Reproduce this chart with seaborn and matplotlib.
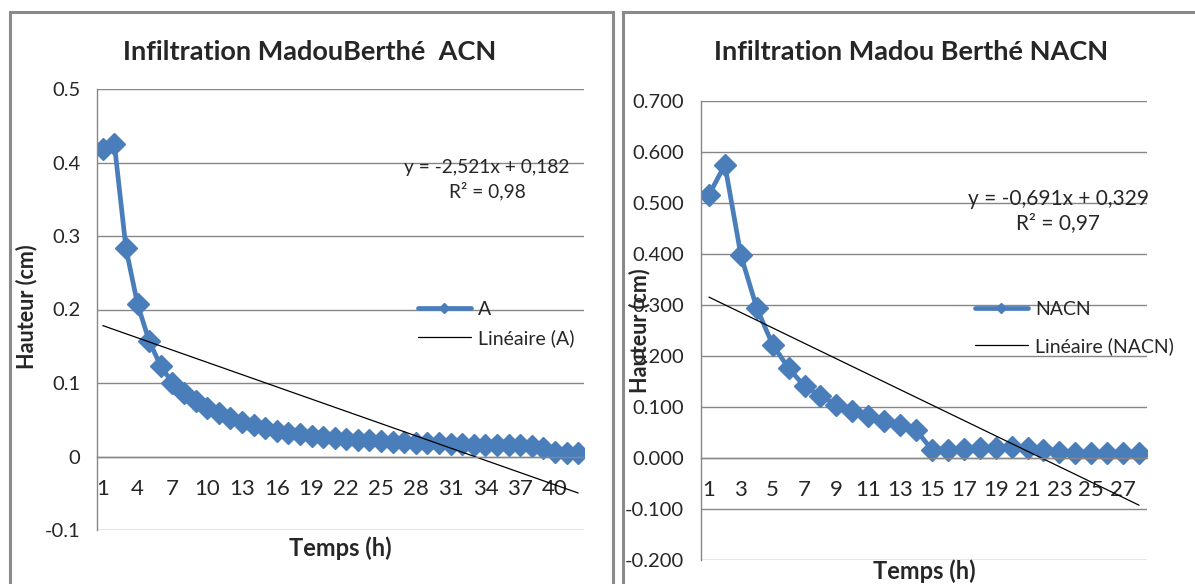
import matplotlib.pyplot as plt
import seaborn as sns
from matplotlib.lines import Line2D
from matplotlib.patches import Rectangle

# Données (hauteur en cm par heure)
hauteur_acn = [0.418, 0.425, 0.283, 0.207, 0.157, 0.123, 0.100, 0.087, 0.076, 0.066,
               0.059, 0.052, 0.047, 0.043, 0.039, 0.035, 0.032, 0.030, 0.028, 0.027,
               0.025, 0.024, 0.023, 0.022, 0.021, 0.020, 0.020, 0.019, 0.018, 0.018,
               0.017, 0.017, 0.016, 0.016, 0.015, 0.015, 0.015, 0.014, 0.012, 0.006,
               0.005, 0.005]
hauteur_nacn = [0.516, 0.575, 0.398, 0.294, 0.222, 0.176, 0.141, 0.122, 0.104, 0.092,
                0.082, 0.073, 0.065, 0.055, 0.016, 0.016, 0.018, 0.019, 0.020, 0.022,
                0.020, 0.016, 0.012, 0.010, 0.010, 0.009, 0.009, 0.009]
temps_acn = list(range(1, len(hauteur_acn) + 1))
temps_nacn = list(range(1, len(hauteur_nacn) + 1))

titre_acn = "Infiltration MadouBerthé  ACN"
titre_nacn = "Infiltration Madou Berthé NACN"
equation_acn = "y = -2,521x + 0,182\nR² = 0,98"
equation_nacn = "y = -0,691x + 0,329\nR² = 0,97"

yticks_acn = [0.5, 0.4, 0.3, 0.2, 0.1, 0, -0.1]
ylabels_acn = ["0.5", "0.4", "0.3", "0.2", "0.1", "0", "-0.1"]
yticks_nacn = [0.7, 0.6, 0.5, 0.4, 0.3, 0.2, 0.1, 0, -0.1, -0.2]
ylabels_nacn = ["0.700", "0.600", "0.500", "0.400", "0.300", "0.200", "0.100",
                "0.000", "-0.100", "-0.200"]
xticks_acn = temps_acn[::3]
xticks_nacn = temps_nacn[::2]

bleu = "#4A7EBB"
gris = "#878787"
W, H = 1195, 584

sns.set_style("white")
plt.rcParams["font.family"] = ["Lato", "DejaVu Sans"]

fig = plt.figure(figsize=(W / 100, H / 100), dpi=100)

# cadres gris des deux graphiques
fig.patches.append(Rectangle((10 / W, -0.1), 603 / W, 1.1 - 12 / H, transform=fig.transFigure,
                             fill=False, ec="#8a8a8a", lw=2.2))
fig.patches.append(Rectangle((623 / W, -0.1), 0.6, 1.1 - 12 / H, transform=fig.transFigure,
                             fill=False, ec="#8a8a8a", lw=2.2))

ax1 = fig.add_axes([97 / W, 1 - 530 / H, 487 / W, 441 / H])
ax2 = fig.add_axes([701 / W, 1 - 560 / H, 446 / W, 459 / H])

panneaux = [
    (ax1, temps_acn, hauteur_acn, yticks_acn, ylabels_acn, xticks_acn, (-0.1, 0.5)),
    (ax2, temps_nacn, hauteur_nacn, yticks_nacn, ylabels_nacn, xticks_nacn, (-0.2, 0.7)),
]

for ax, t, h, yt, yl, xt, ylim in panneaux:
    sns.lineplot(x=t, y=h, ax=ax, color=bleu, lw=3.4, marker="D", markersize=11,
                 markeredgecolor=bleu, markeredgewidth=1)
    # courbe de tendance linéaire
    sns.regplot(x=t, y=h, ax=ax, scatter=False, ci=None, truncate=True,
                line_kws=dict(color="black", lw=0.9))
    ax.set_xlim(0.5, len(t) + 0.5)
    ax.set_ylim(*ylim)
    ax.set_yticks(yt)
    ax.set_yticklabels(yl)
    ax.set_xticks(xt)
    ax.set_xticks([x + 0.5 for x in range(len(t) + 1)], minor=True)
    ax.tick_params(axis="y", direction="out", length=6, color=gris, labelsize=14.5, pad=6)
    ax.tick_params(axis="x", which="major", length=0, labelsize=16, pad=16)
    ax.tick_params(axis="x", which="minor", direction="out", length=7, color=gris)
    ax.spines["bottom"].set_position(("data", 0))
    ax.spines["top"].set_visible(False)
    ax.spines["right"].set_visible(False)
    for s in ["left", "bottom"]:
        ax.spines[s].set_color(gris)
        ax.spines[s].set_linewidth(1)
    ax.yaxis.grid(True, color=gris, lw=1)
    ax.set_axisbelow(True)
    ax.set_xlabel("Temps (h)", fontsize=17, fontweight="bold")
    ax.set_ylabel("Hauteur (cm)", fontsize=15.5, fontweight="bold")

ax1.xaxis.set_label_coords(0.5, -0.015)
ax1.yaxis.set_label_coords(-0.123, 0.506)
ax2.xaxis.set_label_coords(0.5, 0.002)
ax2.yaxis.set_label_coords(-0.114, 0.50)

fig.text(310 / W, 1 - 52 / H, titre_acn, ha="center", va="center", fontsize=19.5, fontweight="bold")
fig.text(911 / W, 1 - 52 / H, titre_nacn, ha="center", va="center", fontsize=19.5, fontweight="bold")

fig.text(487 / W, 1 - 180 / H, equation_acn, ha="center", va="center", fontsize=13.8,
         linespacing=1.35)
fig.text(1058 / W, 1 - 211 / H, equation_nacn, ha="center", va="center", fontsize=15,
         linespacing=1.3)

# légendes
for ax, nom, x0, yc, esp in [(ax1, "A", 418, 324, 0.55), (ax2, "NACN", 975, 328, 1.0)]:
    poignees = [Line2D([], [], color=bleu, lw=3.4, marker="D", markersize=5),
                Line2D([], [], color="black", lw=0.9)]
    ax.legend(poignees, [nom, "Linéaire (" + nom + ")"], loc="center left",
              bbox_to_anchor=(x0 / W, 1 - yc / H), bbox_transform=fig.transFigure,
              frameon=False, fontsize=14, handlelength=2.7, handletextpad=0.4,
              labelspacing=esp, borderpad=0, borderaxespad=0)

fig.savefig("out.png", dpi=100)
